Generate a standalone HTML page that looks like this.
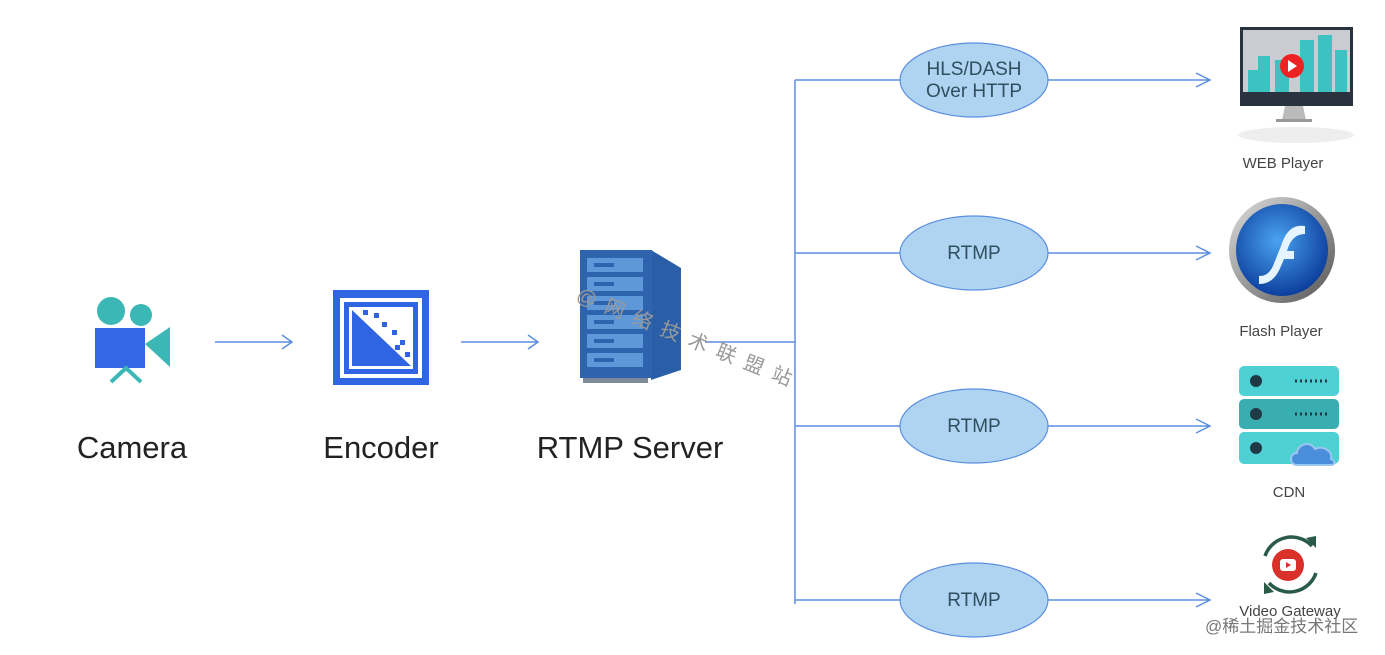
<!DOCTYPE html>
<html><head><meta charset="utf-8"><style>
body{margin:0;background:#fff;width:1385px;height:655px;overflow:hidden}
svg{display:block}
text{font-family:"Liberation Sans","Noto Sans CJK SC",sans-serif}
</style></head><body>
<svg width="1385" height="655" viewBox="0 0 1385 655">
<defs>
<radialGradient id="fg" cx="45%" cy="40%" r="60%"><stop offset="0" stop-color="#4aa3f0"/><stop offset="1" stop-color="#0d3f9e"/></radialGradient>
<linearGradient id="rim" x1="0" y1="0" x2="1" y2="1"><stop offset="0" stop-color="#ddd"/><stop offset="1" stop-color="#555"/></linearGradient>
</defs>
<g stroke="#5b8fe0" stroke-width="1.5" fill="none">
<path d="M215 342H292M282 335l10 7-10 7"/>
<path d="M461 342H538M528 335l10 7-10 7"/>
<path d="M705 342H795M795 80V604"/>
<path d="M795 80H900M795 253H900M795 426H900M795 600H900"/>
<path d="M1048 80H1210M1196 73l14 7-14 7"/>
<path d="M1048 253H1210M1196 246l14 7-14 7"/>
<path d="M1048 426H1210M1196 419l14 7-14 7"/>
<path d="M1048 600H1210M1196 593l14 7-14 7"/>
</g>
<g fill="#aed4f2" stroke="#5b8fe0" stroke-width="1.2">
<ellipse cx="974" cy="80" rx="74" ry="37"/>
<ellipse cx="974" cy="253" rx="74" ry="37"/>
<ellipse cx="974" cy="426" rx="74" ry="37"/>
<ellipse cx="974" cy="600" rx="74" ry="37"/>
</g>
<g fill="#2f4f5f" font-size="19" text-anchor="middle">
<text x="974" y="75">HLS/DASH</text><text x="974" y="97">Over HTTP</text>
<text x="974" y="259">RTMP</text><text x="974" y="432">RTMP</text><text x="974" y="606">RTMP</text>
</g>
<!-- camera -->
<circle cx="111" cy="311" r="14" fill="#3bb8b5"/><circle cx="141" cy="315" r="11" fill="#3bb8b5"/>
<rect x="95" y="328" width="50" height="40" fill="#3566e6"/>
<path d="M145 344l25-17v40z" fill="#3bb8b5"/>
<path d="M111 382l15-14 15 14" stroke="#3bb8b5" stroke-width="4" fill="none"/>
<!-- encoder -->
<rect x="333" y="290" width="96" height="95" fill="#2f64e3"/>
<rect x="340" y="298" width="82" height="80" fill="#fff"/>
<rect x="344" y="302" width="74" height="72" fill="#2f64e3"/>
<rect x="349" y="307" width="64" height="62" fill="#fff"/>
<path d="M352 310L411 366H352Z" fill="#2f64e3"/>
<g fill="#2f64e3"><rect x="363" y="310" width="5" height="5"/><rect x="374" y="313" width="5" height="5"/><rect x="382" y="322" width="5" height="5"/><rect x="392" y="330" width="5" height="5"/><rect x="400" y="340" width="5" height="5"/><rect x="405" y="352" width="5" height="5"/><rect x="395" y="345" width="5" height="5"/></g>
<!-- server -->
<path d="M651 250l30 18v102l-30 10z" fill="#2a5fa8"/>
<rect x="580" y="250" width="72" height="128" fill="#2e64ad"/>
<g fill="#5f98d8"><rect x="587" y="258" width="56" height="14"/><rect x="587" y="277" width="56" height="14"/><rect x="587" y="296" width="56" height="14"/><rect x="587" y="315" width="56" height="14"/><rect x="587" y="334" width="56" height="14"/><rect x="587" y="353" width="56" height="14"/></g>
<g fill="#2e64ad"><rect x="594" y="263" width="20" height="4"/><rect x="594" y="282" width="20" height="4"/><rect x="594" y="301" width="20" height="4"/><rect x="594" y="320" width="20" height="4"/><rect x="594" y="339" width="20" height="4"/><rect x="594" y="358" width="20" height="4"/></g>
<rect x="583" y="378" width="65" height="5" fill="#7c8a99"/>
<g fill="#222" font-size="31" text-anchor="middle">
<text x="132" y="458">Camera</text><text x="381" y="458">Encoder</text><text x="630" y="458">RTMP Server</text>
</g>
<g fill="#999" font-size="20" transform="rotate(22 575 300)"><text x="575" y="300" letter-spacing="10">@网络技术联盟站</text></g>
<!-- web player -->
<ellipse cx="1296" cy="135" rx="58" ry="8" fill="#eee"/>
<rect x="1240" y="27" width="113" height="79" fill="#2a3240"/>
<rect x="1243" y="30" width="107" height="62" fill="#c9ccd0"/>
<path d="M1248 92V70h10v-14h12v36zM1275 92V60h14v32zM1300 92V40h14v52zM1318 92V35h14v57zM1335 92V50h12v42z" fill="#3cc2c0"/>
<circle cx="1292" cy="66" r="12" fill="#e22"/><path d="M1288 60l9 6-9 6z" fill="#fff"/>
<path d="M1285 106h18l3 14h-24z" fill="#bbb"/><rect x="1276" y="119" width="36" height="3" fill="#999"/>
<!-- flash -->
<circle cx="1282" cy="250" r="53" fill="url(#rim)"/>
<circle cx="1282" cy="250" r="46" fill="url(#fg)"/>
<path d="M1305 226c-14-2-20 8-24 20l-8 20c-4 8-8 10-14 10v8c12 0 18-8 22-18l3-7h10v-8h-7c3-10 8-17 18-17z" fill="#e6f4ff"/>
<!-- cdn -->
<rect x="1239" y="366" width="100" height="30" rx="5" fill="#4fd1d4"/>
<rect x="1239" y="399" width="100" height="30" rx="5" fill="#38aeb0"/>
<rect x="1239" y="432" width="100" height="32" rx="5" fill="#4fd1d4"/>
<g fill="#1e3a45"><circle cx="1256" cy="381" r="6"/><circle cx="1256" cy="414" r="6"/><circle cx="1256" cy="448" r="6"/></g>
<g stroke="#1e3a45" stroke-width="3" stroke-dasharray="2 3"><path d="M1295 381h35M1295 414h35"/></g>
<path d="M1297 465c-8 0-8-12 0-12 1-10 14-12 18-4 8-4 18 2 16 10 5 2 4 6 0 6z" fill="#4b8fdc" stroke="#9cc6f2" stroke-width="2"/>
<!-- gateway -->
<path d="M1265 556a28 28 0 0 1 47-10M1316 573a28 28 0 0 1-47 10" stroke="#2a5a48" stroke-width="3.5" fill="none"/>
<path d="M1306 538l10 10 0-12zM1274 592l-10-10 0 12z" fill="#2a5a48"/>
<circle cx="1288" cy="565" r="16" fill="#d9302a"/><rect x="1280" y="559" width="16" height="12" rx="3" fill="#fff"/><path d="M1286 562l5 3-5 3z" fill="#d9302a"/>
<g fill="#444" font-size="15" text-anchor="middle">
<text x="1283" y="168">WEB Player</text><text x="1281" y="336">Flash Player</text><text x="1289" y="497">CDN</text><text x="1290" y="616">Video Gateway</text>
</g>
<text x="1205" y="632" fill="#777" font-size="17">@稀土掘金技术社区</text>
</svg>
</body></html>
